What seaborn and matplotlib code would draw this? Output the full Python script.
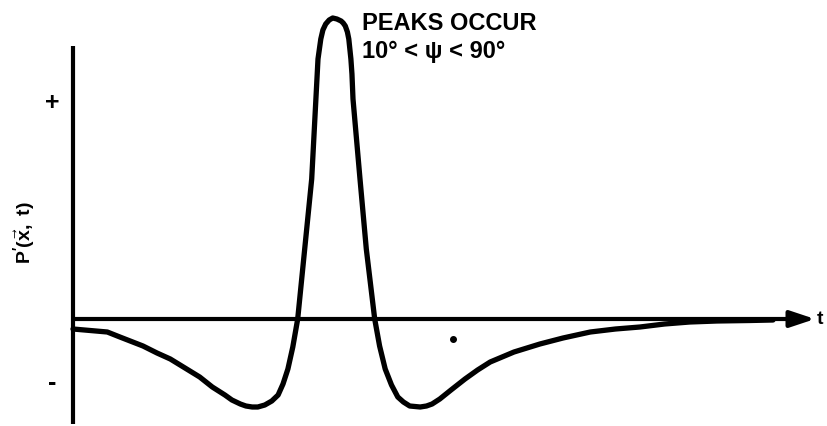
import numpy as np
import pandas as pd
import matplotlib
matplotlib.use("Agg")
import matplotlib.pyplot as plt
import seaborn as sns

sns.set_style("white")
plt.rcParams['font.family'] = ['Liberation Sans', 'DejaVu Sans']
plt.rcParams['text.color'] = 'black'
plt.rcParams['mathtext.fontset'] = 'custom'
plt.rcParams['mathtext.rm'] = 'Liberation Sans:bold'
plt.rcParams['mathtext.bf'] = 'Liberation Sans:bold'
plt.rcParams['mathtext.it'] = 'Liberation Sans:bold'

# pressure pulse (time, pressure in arbitrary units)
tiempo = [0.00, 0.49, 0.67, 1.00, 1.20, 1.39, 1.60, 1.81, 1.99, 2.17, 2.27,
          2.39, 2.47, 2.56, 2.64, 2.74, 2.84, 2.93, 3.00, 3.07, 3.14, 3.21,
          3.31, 3.36, 3.41, 3.44, 3.47, 3.50, 3.54, 3.57, 3.61, 3.66, 3.71,
          3.77, 3.83, 3.86, 3.89, 3.92, 3.94, 3.955, 3.97, 3.985, 4.00, 4.05,
          4.10, 4.19, 4.31, 4.38, 4.46, 4.55, 4.64, 4.72, 4.81, 4.96, 5.05,
          5.13, 5.24, 5.40, 5.60, 5.78, 5.96, 6.30, 6.67, 7.00, 7.39, 7.75,
          8.10, 8.45, 8.81, 9.20, 9.67, 10.00]
presion = [-0.10, -0.13, -0.18, -0.27, -0.34, -0.40, -0.49, -0.58, -0.68,
           -0.76, -0.81, -0.85, -0.87, -0.88, -0.88, -0.86, -0.82, -0.76,
           -0.65, -0.50, -0.28, 0.00, 0.70, 1.05, 1.40, 1.80, 2.20, 2.60,
           2.80, 2.89, 2.95, 2.99, 3.01, 3.00, 2.98, 2.96, 2.93, 2.87, 2.80,
           2.70, 2.60, 2.45, 2.20, 1.80, 1.40, 0.70, 0.00, -0.27, -0.50,
           -0.66, -0.78, -0.83, -0.87, -0.88, -0.87, -0.85, -0.80, -0.71,
           -0.60, -0.51, -0.43, -0.33, -0.25, -0.19, -0.13, -0.10, -0.08,
           -0.05, -0.03, -0.02, -0.015, -0.01]

punto = (5.43, -0.20)

titulo = ["PEAKS OCCUR", "10° < ψ < 90°"]
etiqueta_y = r"$\mathbf{P'(\vec{x},\ t)}$"
etiqueta_x = "t"

df = pd.DataFrame({'t': tiempo, 'p': presion})

fig = plt.figure(figsize=(8.27, 4.27), dpi=100)
ax = fig.add_axes([0, 0, 1, 1])
ax.set_xlim(-73 / 70, 754 / 70)
ax.set_ylim(-1.07, 3.2)
ax.axis('off')

# ejes dibujados a mano
ax.plot([0, 0], [-1.05, 2.73], color='black', lw=3, solid_capstyle='butt')
ax.annotate("", xy=(10.60, 0), xytext=(0, 0),
            arrowprops=dict(arrowstyle='-|>,head_length=1.5,head_width=0.5',
                            lw=3, color='black', shrinkA=0, shrinkB=0,
                            mutation_scale=10))

# curva
sns.lineplot(data=df, x='t', y='p', ax=ax, color='black', lw=3.8,
             sort=False, estimator=None)

ax.plot(*punto, marker='o', color='black', markersize=4)

# textos
ax.text(4.13, 2.90, titulo[0], fontsize=17, fontweight='bold', va='baseline')
ax.text(4.13, 2.62, titulo[1], fontsize=17, fontweight='bold', va='baseline')
ax.text(-0.29, 2.17, "+", fontsize=18, fontweight='bold', ha='center', va='center')
ax.text(-0.30, -0.63, "-", fontsize=18, fontweight='bold', ha='center', va='center')
ax.text(-0.69, 0.87, etiqueta_y, fontsize=14, rotation=90, ha='center', va='center')
ax.text(10.63, 0.0, etiqueta_x, fontsize=14, fontweight='bold', ha='left', va='center')

fig.savefig('out.png', dpi=100)
